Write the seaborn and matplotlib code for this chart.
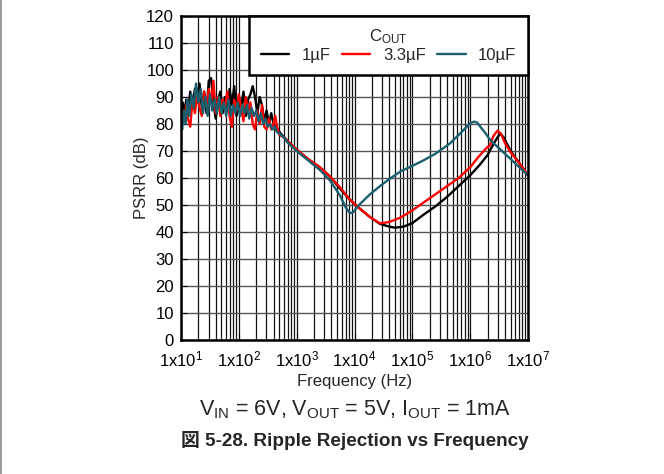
import numpy as np
import pandas as pd
import matplotlib
matplotlib.use("Agg")
import matplotlib.pyplot as plt
import matplotlib.ticker as mticker
from matplotlib.lines import Line2D
import seaborn as sns

# frequency as log10(Hz), PSRR in dB
black_logf = [1.00, 1.03, 1.06, 1.09, 1.12, 1.16, 1.20, 1.24, 1.28, 1.32, 1.36, 1.40, 1.44, 1.48,
              1.52, 1.56, 1.60, 1.64, 1.68, 1.72, 1.76, 1.80, 1.84, 1.88, 1.92, 1.96, 2.00, 2.04,
              2.08, 2.12, 2.16, 2.20, 2.24, 2.28, 2.32, 2.36, 2.40, 2.44, 2.48, 2.52, 2.56, 2.60,
              2.64, 2.68, 2.72, 2.78, 2.85, 3.00, 3.20, 3.40, 3.58, 3.75, 3.92, 4.10, 4.27, 4.44,
              4.60, 4.70, 4.85, 5.00, 5.20, 5.40, 5.60, 5.80, 6.00, 6.17, 6.30, 6.40, 6.47, 6.52,
              6.58, 6.70, 6.85, 7.00]
black_db = [83, 88, 84, 89, 85, 92, 86, 93, 88, 95, 86, 92, 84, 96,
            97, 88, 82, 89, 92, 84, 90, 85, 93, 87, 94, 83, 90, 86,
            92, 83, 89, 91, 94, 90, 84, 90, 87, 81, 85, 80, 84, 80,
            79, 78, 76.5, 75.2, 73.5, 70.5, 67, 64, 60.5, 56, 52, 48.5, 45.5, 43,
            42, 41.6, 42, 43.3, 46.5, 49.5, 53, 57, 61, 65, 68.5, 72.5, 75, 76.5,
            75, 70, 65.5, 61]

red_logf = [1.00, 1.03, 1.06, 1.09, 1.12, 1.16, 1.20, 1.24, 1.28, 1.32, 1.36, 1.40, 1.44, 1.48,
            1.52, 1.56, 1.60, 1.64, 1.68, 1.72, 1.76, 1.80, 1.84, 1.88, 1.92, 1.96, 2.00, 2.04,
            2.08, 2.12, 2.16, 2.20, 2.24, 2.28, 2.32, 2.36, 2.40, 2.44, 2.48, 2.52, 2.56, 2.60,
            2.63, 2.66, 2.70, 2.78, 2.85, 3.00, 3.20, 3.40, 3.58, 3.75, 3.92, 4.10, 4.27, 4.44,
            4.60, 4.80, 5.00, 5.20, 5.40, 5.60, 5.80, 6.00, 6.15, 6.29, 6.34, 6.40, 6.47, 6.53,
            6.60, 6.70, 6.85, 7.00]
red_db = [80, 85, 81, 87, 82, 79, 89, 84, 91, 86, 83, 92, 86, 93,
          88, 96, 84, 90, 83, 89, 86, 92, 83, 79, 89, 85, 91, 86,
          81, 90, 84, 88, 80, 78, 85, 80, 87, 79, 78, 82, 78, 80,
          83, 79, 76, 75, 73.5, 70.5, 67, 64, 60.5, 56.5, 52, 48.5, 45.5, 43.2,
          43.7, 45.4, 48, 51, 54, 57, 60, 64, 68, 71.3, 72, 75.5, 77.5, 76.5,
          73, 69.5, 65.5, 61]

teal_logf = [1.00, 1.02, 1.05, 1.08, 1.11, 1.14, 1.18, 1.22, 1.26, 1.30, 1.34, 1.38, 1.42, 1.46,
             1.50, 1.54, 1.58, 1.62, 1.66, 1.70, 1.74, 1.78, 1.82, 1.86, 1.90, 1.94, 1.98, 2.02,
             2.06, 2.10, 2.14, 2.18, 2.22, 2.26, 2.30, 2.34, 2.38, 2.42, 2.46, 2.50, 2.54, 2.58,
             2.62, 2.66, 2.70, 2.78, 2.85, 3.00, 3.20, 3.40, 3.58, 3.75, 3.85, 3.92, 3.97, 4.00,
             4.10, 4.27, 4.44, 4.62, 4.80, 5.00, 5.19, 5.40, 5.65, 5.85, 6.00, 6.07, 6.12, 6.25,
             6.35, 6.50, 6.70, 6.85, 7.00]
teal_db = [81, 78, 85, 80, 89, 83, 91, 86, 95, 88, 93, 84, 90, 83,
           91, 85, 89, 84, 90, 84, 88, 83, 89, 83, 87, 84, 88, 83,
           87, 84, 87, 82, 86, 83, 85, 81, 84, 80, 82, 79, 80, 78,
           79, 77, 76.5, 75, 73, 70, 66.5, 63, 59, 53.5, 49, 47, 47.2, 48,
           50.5, 54, 57, 59.9, 62.5, 64.5, 66.5, 69, 72.8, 77, 80.3, 80.9, 80.5, 77,
           74, 71, 67, 64, 61]

series_names = ["1µF", "3.3µF", "10µF"]
series_colors = ["#000000", "#ff0000", "#1b5e6e"]

x_tick_exps = [1, 2, 3, 4, 5, 6, 7]
y_ticks = list(range(0, 121, 10))

frames = []
for name, lf, db in zip(series_names, [black_logf, red_logf, teal_logf], [black_db, red_db, teal_db]):
    frames.append(pd.DataFrame({"freq": 10.0 ** np.array(lf), "psrr": db, "cout": name}))
df = pd.concat(frames, ignore_index=True)

sns.set_style("ticks")
plt.rcParams["font.family"] = ["Liberation Sans", "Noto Sans CJK JP", "DejaVu Sans"]
plt.rcParams["mathtext.fontset"] = "custom"
plt.rcParams["mathtext.rm"] = "Liberation Sans"
plt.rcParams["mathtext.it"] = "Liberation Sans:italic"
plt.rcParams["mathtext.bf"] = "Liberation Sans:bold"

fig = plt.figure(figsize=(6.64, 4.74), dpi=100)
ax = fig.add_axes([0.2726, 0.2827, 0.5226, 0.6835])

sns.lineplot(data=df, x="freq", y="psrr", hue="cout", hue_order=series_names,
             palette=series_colors, estimator=None, sort=False, linewidth=1.7, ax=ax)

ax.set_xscale("log")
ax.set_xlim(10, 1e7)
ax.set_ylim(0, 120)
ax.set_yticks(y_ticks)
ax.set_xticks([10.0 ** e for e in x_tick_exps])
ax.set_xticklabels([r"1x10$^{%d}$" % e for e in x_tick_exps])
ax.xaxis.set_minor_locator(mticker.LogLocator(base=10, subs=np.arange(2, 10), numticks=100))
ax.xaxis.set_minor_formatter(mticker.NullFormatter())

ax.grid(True, axis="x", which="both", color="#111111", linewidth=0.9)
ax.grid(True, axis="y", which="major", color="#555555", linewidth=1.0)
ax.set_axisbelow(True)

ax.tick_params(axis="both", which="major", direction="in", length=4, width=0.8,
               labelsize=12, colors="black")
ax.tick_params(axis="x", which="major", pad=7)
ax.tick_params(axis="y", which="major", pad=5)
ax.tick_params(axis="x", which="minor", direction="in", length=3, width=0.6)
for s in ax.spines.values():
    s.set_visible(True)
    s.set_linewidth(1.8)
    s.set_color("black")

ax.set_xlabel("Frequency (Hz)", fontsize=12, labelpad=3)
ax.set_ylabel("PSRR (dB)", fontsize=12, labelpad=-2)

handles, labels = ax.get_legend_handles_labels()
leg = ax.legend(handles, labels, title=r"C$_{\rm OUT}$", ncol=3, loc="upper right",
                bbox_to_anchor=(1.0, 1.0), borderaxespad=0, fancybox=False, framealpha=1,
                edgecolor="black", fontsize=12, title_fontsize=12, handlelength=1.7,
                handletextpad=0.75, columnspacing=0.7, borderpad=0.7, labelspacing=0.1)
leg.get_frame().set_linewidth(1.8)

fig.text(0.5339, 1 - 410 / 474, r"V$_{\rm IN}$ = 6V, V$_{\rm OUT}$ = 5V, I$_{\rm OUT}$ = 1mA",
         ha="center", va="center", fontsize=15.5)
fig.text(0.5339, 1 - 441 / 474, "図 5-28. Ripple Rejection vs Frequency",
         ha="center", va="center", fontsize=13.6, fontweight="bold")

fig.add_artist(Line2D([0.001, 0.001], [0, 1], transform=fig.transFigure, color="#888888", linewidth=1.2))

fig.savefig("out.png", dpi=100)
